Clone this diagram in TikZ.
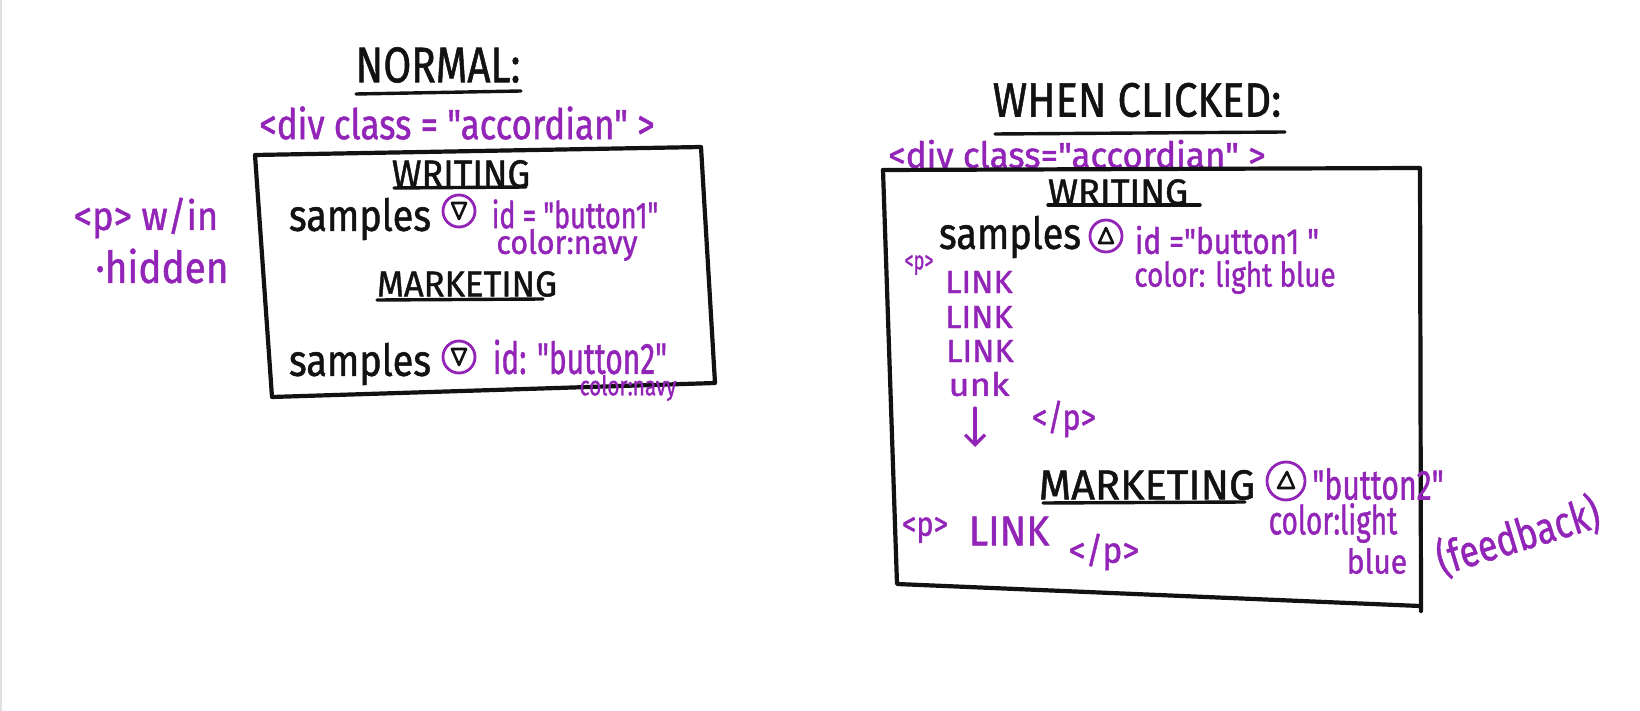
\documentclass[tikz,border=0pt]{standalone}
\usepackage{fontspec}
\usepackage{graphicx}
\newfontfamily\handfont[FakeBold=1.2]{Fira Sans}
\usetikzlibrary{arrows.meta}
\definecolor{ink}{RGB}{18,18,18}
\definecolor{markup}{RGB}{146,36,184}
% size, horizontal squeeze, text
\newcommand{\hw}[3]{{\fontsize{#1}{#1}\selectfont\scalebox{#2}[1]{#3}}}
\tikzset{
  pen/.style={draw=ink, line width=4.2pt, line cap=round, line join=round},
  uline/.style={draw=ink, line width=3.4pt, line cap=round},
  inktext/.style={text=ink, font=\handfont, inner sep=0pt},
  note/.style={text=markup, font=\handfont, inner sep=0pt},
  toggle/.style={circle, draw=markup, line width=2.8pt, minimum size=#1, inner sep=0pt},
  toggle/.default=32pt,
  tri/.style={draw=ink, line width=2.6pt, line join=round},
  arrowpen/.style={draw=markup, line width=3.2pt, line cap=round, -{Straight Barb[length=10pt,width=20pt,line width=3.2pt]}}
}
\begin{document}
\begin{tikzpicture}[x=1pt,y=-1pt]
\useasboundingbox[fill=white] (0,0) rectangle (1640,711);
\draw[black!12, line width=2pt] (1,0) -- (1,711);

% ---------------- normal state ----------------
\node[inktext] (normal) at (438,65) {\hw{50}{0.81}{NORMAL:}};
\draw[uline] (356,94) -- (521,91);
\node[note] (divA) at (457,123) {\hw{42}{0.83}{<div class = "accordian" >}};

\coordinate (a1) at (255,155);
\coordinate (a2) at (701,147);
\coordinate (a3) at (715,383);
\coordinate (a4) at (272,397);
\draw[pen] (a1) -- (a2) -- (a3) -- (a4) -- (a1);

\node[inktext] (writA) at (461,174) {\hw{39}{0.92}{WRITING}};
\draw[uline] (394,188) -- (526,187);
\node[inktext] (sampA1) at (360,219) {\hw{44}{0.86}{samples}};
\node[toggle] (btnA1) at (459,211) {};
\draw[tri] (btnA1.center) ++(-7,-8) -- ++(14,0) -- ++(-7,16) -- cycle;
\node[note] (idA1) at (575,214) {\hw{37}{0.73}{id = "button1"}};
\node[note] (colA1) at (567,245) {\hw{33}{0.92}{color:navy}};

\node[inktext] (markA) at (467,284) {\hw{36}{0.96}{MARKETING}};
\draw[uline] (377,300) -- (543,299);
\node[inktext] (sampA2) at (360,364) {\hw{44}{0.86}{samples}};
\node[toggle] (btnA2) at (459,357) {};
\draw[tri] (btnA2.center) ++(-7,-8) -- ++(14,0) -- ++(-7,16) -- cycle;
\node[note] (idA2) at (580,357) {\hw{44}{0.68}{id: "button2"}};
\node[note] (colA2) at (628,388) {\hw{27}{0.77}{color:navy}};

\node[note] (pA) at (146,218) {\hw{40}{0.91}{<p> w/in}};
\node[note] (hidA) at (162,266) {\hw{44}{0.88}{·hidden}};

% ---------------- clicked state ----------------
\node[inktext] (clicked) at (1137,100) {\hw{48}{0.87}{WHEN CLICKED:}};
\draw[uline] (995,134) -- (1285,132);
\node[note] (divB) at (1077,154) {\hw{36}{0.97}{<div class="accordian" >}};

\coordinate (b1) at (883,170);
\coordinate (b2) at (1420,168);
\coordinate (b3) at (1421,611);
\coordinate (b4) at (897,584);
\draw[pen] (b1) -- (b2) -- (b3);
\draw[pen] (b1) -- (b4) -- (1420,606);

\node[inktext] (writB) at (1118,192) {\hw{36}{1.01}{WRITING}};
\draw[uline] (1048,205) -- (1200,205);
\node[inktext] (sampB1) at (1010,237) {\hw{44}{0.86}{samples}};
\node[toggle] (btnB1) at (1106,236) {};
\draw[tri] (btnB1.center) ++(-7,7) -- ++(14,0) -- ++(-7,-15) -- cycle;
\node[note] (idB1) at (1227,240) {\hw{36}{0.83}{id ="button1 "}};
\node[note] (colB1) at (1235,277) {\hw{34}{0.82}{color: light blue}};
\node[note] (pB1) at (919,265) {\hw{26}{0.7}{<p>}};

\node[note] (l1) at (979,282) {\hw{32}{1.02}{LINK}};
\node[note] (l2) at (979,317) {\hw{32}{1.02}{LINK}};
\node[note] (l3) at (980,351) {\hw{32}{1.02}{LINK}};
\node[note] (l4) at (979,384) {\hw{32}{1.13}{unk}};
\coordinate (arrtop) at (975,408);
\coordinate (arrbot) at (975,447);
\draw[arrowpen] (arrtop) -- (arrbot);
\node[note] (pcB1) at (1064,419) {\hw{36}{0.85}{</p>}};

\node[inktext] (markB) at (1147,485) {\hw{42}{0.99}{MARKETING}};
\draw[uline] (1043,503) -- (1245,502);
\node[toggle=38pt] (btnB2) at (1286,481) {};
\draw[tri] (btnB2.center) ++(-8,7) -- ++(16,0) -- ++(-7,-16) -- cycle;
\node[note] (idB2) at (1378,484) {\hw{42}{0.72}{"button2"}};
\node[note] (colB2) at (1333,523) {\hw{40}{0.70}{color:light}};
\node[note] (blueB2) at (1377,561) {\hw{34}{0.88}{blue}};
\node[note, rotate=17] (fb) at (1518,536) {\hw{44}{0.8}{(feedback)}};

\node[note] (pB2) at (925,530) {\hw{34}{0.85}{<p>}};
\node[note] (lB) at (1009,531) {\hw{42}{0.93}{LINK}};
\node[note] (pcB2) at (1104,552) {\hw{36}{0.94}{</p>}};
\end{tikzpicture}
\end{document}
